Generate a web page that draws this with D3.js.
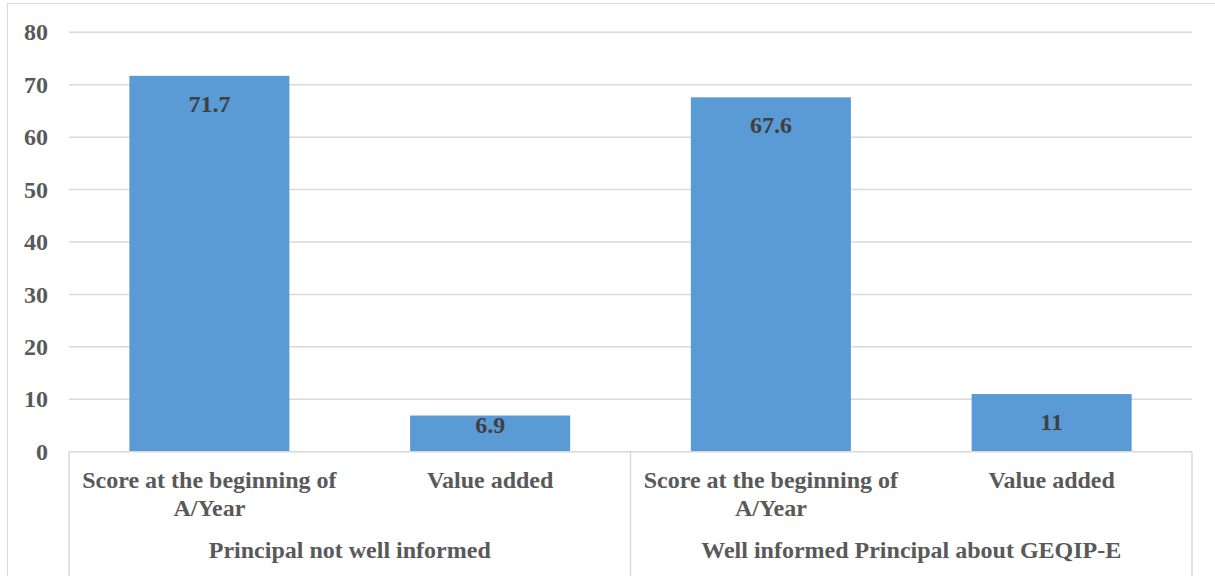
<!DOCTYPE html>
<html><head><meta charset="utf-8">
<script src="https://cdn.jsdelivr.net/npm/d3@7"></script>
<style>body{margin:0;background:#fff}svg{display:block}</style>
</head><body>
<svg id="c" width="1215" height="576"></svg>
<script>
const groups = ["Principal not well informed", "Well informed Principal about GEQIP-E"];
const categories = [
  ["Score at the beginning of", "A/Year"], ["Value added"],
  ["Score at the beginning of", "A/Year"], ["Value added"]
];
const categoryGroup = [0, 0, 1, 1];
const values = [71.7, 6.9, 67.6, 11];
const valueLabels = ["71.7", "6.9", "67.6", "11"];
const yTicks = [0, 10, 20, 30, 40, 50, 60, 70, 80];

const svg = d3.select("#c");
const font = "'Liberation Serif','Times New Roman',serif";
const FS = 24;
const L = 69, R = 1192, T = 32.3, B = 451.7;
const x = d3.scaleBand().domain(d3.range(values.length)).range([L, R]).paddingInner(0.43).paddingOuter(0.215);
const xc = d3.scaleBand().domain(d3.range(values.length)).range([L, R]);
const y = d3.scaleLinear().domain([0, 80]).range([B, T]);

// outer frame
svg.append("path").attr("d", "M7.5,576 V3.5 H1215").attr("fill", "none").attr("stroke", "#d9d9d9").attr("stroke-width", 1.2);

// gridlines
svg.append("g").selectAll("line").data(yTicks.filter(d => d > 0)).join("line")
  .attr("x1", L).attr("x2", R).attr("y1", d => y(d)).attr("y2", d => y(d))
  .attr("stroke", "#d9d9d9").attr("stroke-width", 1.5);

// y axis
const ya = svg.append("g").attr("transform", `translate(${L},0)`)
  .call(d3.axisLeft(y).tickValues(yTicks).tickSize(0).tickPadding(21));
ya.select(".domain").remove();
ya.selectAll("text").attr("font-family", font).attr("font-weight", "bold").attr("font-size", FS).attr("fill", "#595959");

// bars
svg.append("g").selectAll("rect").data(values).join("rect")
  .attr("x", (d, i) => x(i)).attr("width", x.bandwidth())
  .attr("y", d => y(d)).attr("height", d => y(0) - y(d))
  .attr("fill", "#5b9bd5");

// value labels (inside end, kept within bar)
svg.append("g").selectAll("text").data(values).join("text")
  .attr("x", (d, i) => x(i) + x.bandwidth() / 2)
  .attr("y", d => Math.min(y(d) + 28, B - 27) + 8)
  .attr("text-anchor", "middle").attr("font-family", font).attr("font-weight", "bold")
  .attr("font-size", FS).attr("fill", "#404040").text((d, i) => valueLabels[i]);

// x axis baseline
svg.append("line").attr("x1", L).attr("x2", R).attr("y1", B).attr("y2", B).attr("stroke", "#d9d9d9").attr("stroke-width", 1.5);

// group separators
const sepX = [L, xc(2), R];
svg.append("g").selectAll("line").data(sepX).join("line")
  .attr("x1", d => d).attr("x2", d => d).attr("y1", B).attr("y2", 576)
  .attr("stroke", "#d9d9d9").attr("stroke-width", 1.5);

// category labels
const cl = svg.append("g").selectAll("text").data(categories).join("text")
  .attr("text-anchor", "middle").attr("font-family", font).attr("font-weight", "bold")
  .attr("font-size", FS).attr("fill", "#595959");
cl.each(function(lines, i) {
  d3.select(this).selectAll("tspan").data(lines).join("tspan")
    .attr("x", xc(i) + xc.bandwidth() / 2).attr("y", (l, j) => 488 + j * 28).text(l => l);
});

// group labels
svg.append("g").selectAll("text").data(groups).join("text")
  .attr("x", (g, gi) => { const idx = d3.range(values.length).filter(i => categoryGroup[i] === gi); return (xc(idx[0]) + xc(idx[idx.length-1]) + xc.bandwidth()) / 2; })
  .attr("y", 558).attr("text-anchor", "middle").attr("font-family", font).attr("font-weight", "bold")
  .attr("font-size", FS).attr("fill", "#595959").text(g => g);
</script>
</body></html>
